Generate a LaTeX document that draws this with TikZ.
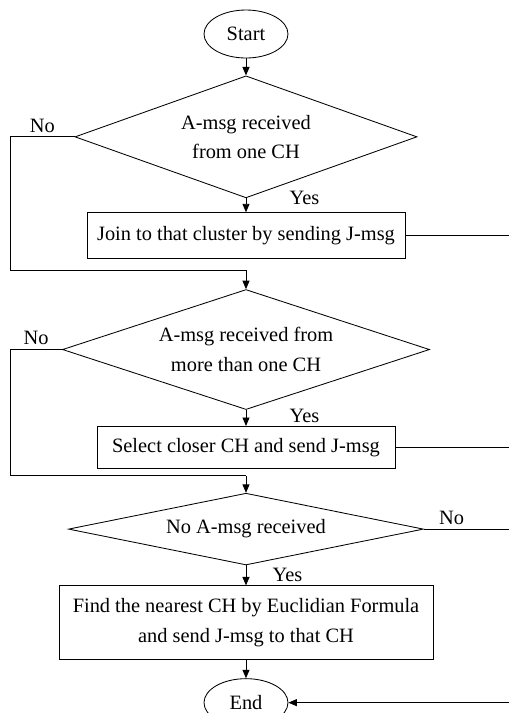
\documentclass[tikz,border=0pt]{standalone}
\usepackage{fontspec}
\setmainfont{Liberation Serif}
\usetikzlibrary{shapes.geometric, arrows.meta, positioning}

\begin{document}
\begin{tikzpicture}[
    every node/.style={align=center, font=\fontsize{14.5pt}{21pt}\selectfont},
    terminal/.style={ellipse, minimum width=2.1cm, minimum height=1.2cm, inner sep=1pt, draw=black, line width=0.6pt},
    decision/.style={diamond, aspect=3, inner sep=0pt, draw=black, line width=0.6pt},
    process/.style={rectangle, inner sep=2pt, draw=black, line width=0.6pt},
    lbl/.style={inner sep=1pt},
    line/.style={line width=0.6pt},
    arrow/.style={line width=0.6pt,->,>={Triangle[length=6pt,width=5pt]}}
]
\useasboundingbox (-6.15,0.85) rectangle (6.575,-16.975);

% Nodes
\node (start) [terminal] at (0,0) {Start};
\node (onech) [decision, below=0.425cm of start, minimum width=8.55cm, minimum height=3.05cm] {A-msg received\\from one CH};
\node (join) [process, below=0.35cm of onech, minimum width=7.95cm, minimum height=1.15cm] {Join to that cluster by sending J-msg};
\node (morech) [decision, below=0.75cm of join, minimum width=9.175cm, minimum height=3cm] {A-msg received from\\more than one CH};
\node (closer) [process, below=0.4cm of morech, minimum width=7.45cm, minimum height=1.05cm] {Select closer CH and send J-msg};
\node (nomsg) [decision, below=0.6cm of closer, minimum width=8.875cm, minimum height=1.725cm] {No A-msg received};
\node (nearest) [process, below=0.5cm of nomsg, minimum width=9.35cm, minimum height=1.85cm] {Find the nearest CH by Euclidian Formula\\and send J-msg to that CH};
\node (stop) [terminal, below=0.45cm of nearest] {End};

% Labels
\node (yes1) [lbl, right=1.05cm of onech.south] {Yes};
\node (yes2) [lbl, right=1.05cm of morech.south, yshift=-0.15cm] {Yes};
\node (yes3) [lbl, right=0.625cm of nomsg.south, yshift=-0.25cm] {Yes};

% Rails
\coordinate (lrail) at (-5.9,0);
\coordinate (rrail) at (6.75,0);
\coordinate (into2) at ([yshift=0.475cm]morech.north);
\coordinate (into3) at ([yshift=0.425cm]nomsg.north);

% Arrows
\draw [arrow] (start) -- (onech);
\draw [arrow] (onech) -- (join);
\draw [line] (onech.west) -- node[lbl, above=2pt] {No} (onech.west -| lrail) |- (into2);
\draw [arrow] (into2) -- (morech);
\draw [arrow] (morech) -- (closer);
\draw [line] (morech.west) -- node[lbl, above=2pt] {No} (morech.west -| lrail) |- (into3);
\draw [arrow] (into3) -- (nomsg);
\draw [arrow] (nomsg) -- (nearest);
\draw [arrow] (nearest) -- (stop);
\draw [line] (join.east) -- (join.east -| rrail);
\draw [line] (closer.east) -- (closer.east -| rrail);
\draw [arrow] (nomsg.east) -- node[lbl, above=2pt, pos=0.3] {No} (nomsg.east -| rrail) |- (stop.east);

\end{tikzpicture}
\end{document}
